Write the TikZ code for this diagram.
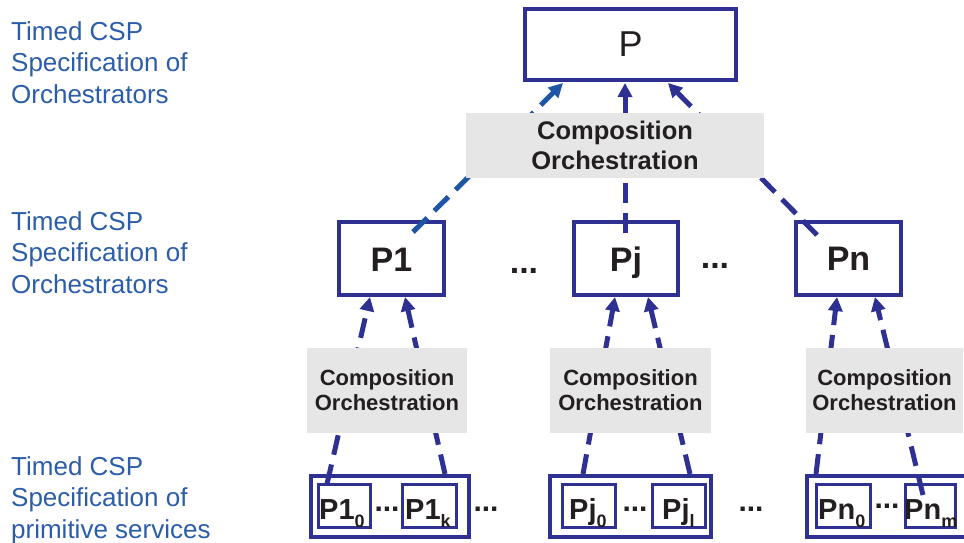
\documentclass[tikz,border=0pt]{standalone}
\usepackage{fontspec}
\setmainfont{Liberation Sans}
\usetikzlibrary{arrows.meta}
\definecolor{boxblue}{HTML}{2E3192}
\definecolor{arrblue}{HTML}{1F55A5}
\definecolor{lblblue}{HTML}{2B5DA9}
\definecolor{gfill}{HTML}{E6E6E6}
\definecolor{txt}{HTML}{231F20}
\newcommand\sbx[1]{\raisebox{-8.5pt}{\fontsize{18}{18}\selectfont #1}}
\begin{document}
\begin{tikzpicture}[x=1pt,y=-1pt,
 pbox/.style={draw=boxblue,line width=4pt,fill=white,inner sep=0pt,text=txt,text height=25pt,text depth=0pt},
 ibox/.style={draw=boxblue,line width=3pt,fill=white,inner sep=0pt},
 gbox/.style={fill=gfill,inner sep=0pt,align=center,text=txt,font=\bfseries\fontsize{22}{25}\selectfont},
 flow/.style={draw=boxblue,line width=5pt,dash pattern=on 20pt off 10pt,-{Triangle[length=14pt,width=14pt]}},
 sidelbl/.style={anchor=base west,inner sep=0pt,align=left,text=lblblue,font=\fontsize{26}{31.5}\selectfont},
 bigname/.style={font=\bfseries\fontsize{34}{34}\selectfont},
 subtxt/.style={anchor=base west,inner sep=0pt,text=txt,font=\bfseries\fontsize{29}{29}\selectfont},
 dotstxt/.style={anchor=base,inner sep=0pt,text=txt,font=\bfseries\fontsize{30}{30}\selectfont}
]
\useasboundingbox (0,0) rectangle (964,543);

% side labels (base anchor = last line's baseline)
\node[sidelbl] (L1) at (11,103) {Timed CSP\\Specification of\\Orchestrators};
\node[sidelbl] (L2) at (11,293) {Timed CSP\\Specification of\\Orchestrators};
\node[sidelbl] (L3) at (11,538) {Timed CSP\\Specification of\\primitive services};

% top and middle boxes
\node[pbox,minimum width=211pt,minimum height=71pt,font=\fontsize{36}{36}\selectfont] (P) at (630.5,44.5) {P};
\node[pbox,bigname,minimum width=105pt,minimum height=73pt] (P1) at (391.5,258.5) {P1};
\node[pbox,bigname,minimum width=104pt,minimum height=73pt] (Pj) at (626,258.5) {Pj};
\node[pbox,bigname,minimum width=105pt,minimum height=73pt] (Pn) at (848.5,258) {Pn};

\node[dotstxt,font=\bfseries\fontsize{34}{34}\selectfont] (d1) at (524,273) {...};
\node[dotstxt,font=\bfseries\fontsize{34}{34}\selectfont] (d2) at (715,268) {...};

% bottom outer boxes
\node[ibox,line width=4pt,minimum width=158pt,minimum height=61pt] (G1) at (390,506.5) {};
\node[ibox,line width=4pt,minimum width=161pt,minimum height=61pt] (Gj) at (630.5,506.5) {};
\node[ibox,line width=4pt,minimum width=161pt,minimum height=61pt] (Gn) at (887.5,506.5) {};

% inner boxes
\node[ibox,minimum width=52pt,minimum height=43pt] (P10) at (344.5,506) {};
\node[ibox,minimum width=54pt,minimum height=43pt] (P1k) at (429.5,506) {};
\node[ibox,minimum width=53pt,minimum height=43pt] (Pj0) at (589,506) {};
\node[ibox,minimum width=53pt,minimum height=43pt] (Pjl) at (679,506) {};
\node[ibox,minimum width=54pt,minimum height=43pt] (Pn0) at (843.5,506) {};
\node[ibox,minimum width=50pt,minimum height=43pt] (Pnm) at (930.5,506) {};

\node[subtxt] (t10) at (319,519) {P1\sbx{0}};
\node[subtxt] (t1k) at (405,519) {P1\sbx{k}};
\node[subtxt] (tj0) at (569,519) {Pj\sbx{0}};
\node[subtxt] (tjl) at (662,519) {Pj\sbx{l}};
\node[subtxt] (tn0) at (818,519) {Pn\sbx{0}};
\node[subtxt] (tnm) at (904,519) {Pn\sbx{m}};

\node[dotstxt] (e1) at (387,511) {...};
\node[dotstxt] (e2) at (486,511) {...};
\node[dotstxt] (e3) at (635,511) {...};
\node[dotstxt] (e4) at (751,511) {...};
\node[dotstxt] (e5) at (887,508) {...};

% connector end points
\coordinate (a1) at (413,232); \coordinate (b1) at (563,83);
\coordinate (a2) at (625,233); \coordinate (b2) at (625,83);
\coordinate (a3) at (817,235); \coordinate (b3) at (668,83);
\coordinate (c1) at (327,484); \coordinate (h1) at (370,297);
\coordinate (c2) at (445,474); \coordinate (h2) at (405,297);
\coordinate (c3) at (583,474); \coordinate (h3) at (615,297);
\coordinate (c4) at (690,474); \coordinate (h4) at (648,297);
\coordinate (c5) at (816,474); \coordinate (h5) at (837,297);
\coordinate (c6) at (923,495); \coordinate (h6) at (875,297);

\draw[flow,draw=arrblue] (a1) -- (b1);
\draw[flow] (a2) -- (b2);
\draw[flow] (a3) -- (b3);
\draw[flow] (c1) -- (h1);
\draw[flow] (c2) -- (h2);
\draw[flow] (c3) -- (h3);
\draw[flow] (c4) -- (h4);
\draw[flow] (c5) -- (h5);
\draw[flow] (c6) -- (h6);

% composition boxes
\node[gbox,font=\bfseries\fontsize{25.5}{29.5}\selectfont,minimum width=298pt,minimum height=65pt] (C0) at (615,145.5) {Composition\\Orchestration};
\node[gbox,minimum width=160pt,minimum height=85pt] (C1) at (387,390.5) {Composition\\Orchestration};
\node[gbox,minimum width=161pt,minimum height=85pt] (Cj) at (630.5,390.5) {Composition\\Orchestration};
\node[gbox,minimum width=157pt,minimum height=85pt] (Cn) at (884.5,390.5) {Composition\\Orchestration};
\end{tikzpicture}
\end{document}
